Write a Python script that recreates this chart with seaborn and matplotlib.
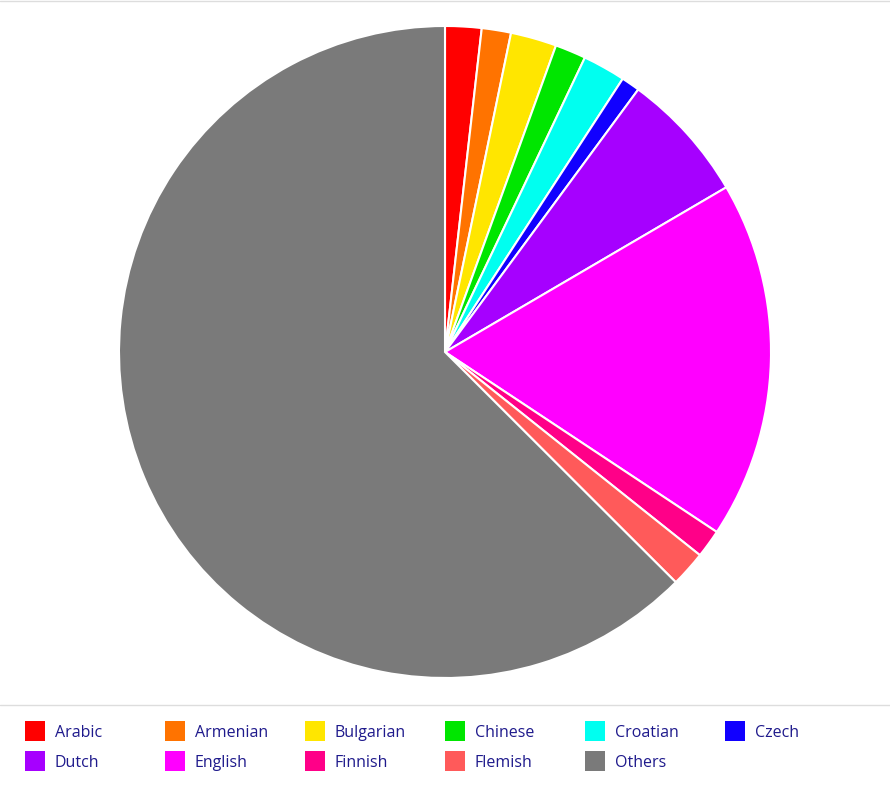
import matplotlib
matplotlib.use("Agg")
import matplotlib.pyplot as plt
from matplotlib.patches import Rectangle
from matplotlib.lines import Line2D
import seaborn as sns

languages = ["Arabic", "Armenian", "Bulgarian", "Chinese", "Croatian", "Czech",
             "Dutch", "English", "Finnish", "Flemish", "Others"]
shares = [1.8, 1.45, 2.28, 1.53, 2.12, 0.92, 6.47, 17.74, 1.4, 1.77, 62.52]
colors = ["#ff0000", "#ff7300", "#ffe600", "#00e600", "#00fff0", "#1100ff",
          "#a600ff", "#ff00ff", "#ff0088", "#ff5a5a", "#7a7a7a"]

sns.set_theme(style="white")
plt.rcParams['font.family'] = ['Open Sans', 'DejaVu Sans']

W, H = 890, 787
fig = plt.figure(figsize=(W / 100, H / 100), dpi=100)
fig.patch.set_facecolor("white")

cx, cy, r = 445, 352, 326
ax = fig.add_axes([(cx - r) / W, (H - cy - r) / H, 2 * r / W, 2 * r / H])
ax.pie(shares, colors=colors, startangle=90, counterclock=False,
       wedgeprops=dict(edgecolor="white", linewidth=1.5))
ax.set_xlim(-1, 1)
ax.set_ylim(-1, 1)
ax.set_aspect("equal")
ax.axis("off")

# border lines
fig.add_artist(Line2D([0, 1], [1 - 0.5 / H, 1 - 0.5 / H], color="#dddddd", lw=1))
fig.add_artist(Line2D([0, 1], [1 - 705 / H, 1 - 705 / H], color="#dddddd", lw=1))

# legend
for i, (lab, col) in enumerate(zip(languages, colors)):
    row, c = divmod(i, 6)
    x0 = 25 + c * 140
    yc = 731 + row * 30
    fig.add_artist(Rectangle((x0 / W, 1 - (yc + 10) / H), 20 / W, 20 / H,
                             transform=fig.transFigure, facecolor=col, edgecolor="none"))
    fig.text((x0 + 30) / W, 1 - (yc + 2) / H, lab, ha="left", va="center",
             fontsize=11.5, color="#1f1a8c")

fig.savefig("out.png", dpi=100, facecolor="white")
